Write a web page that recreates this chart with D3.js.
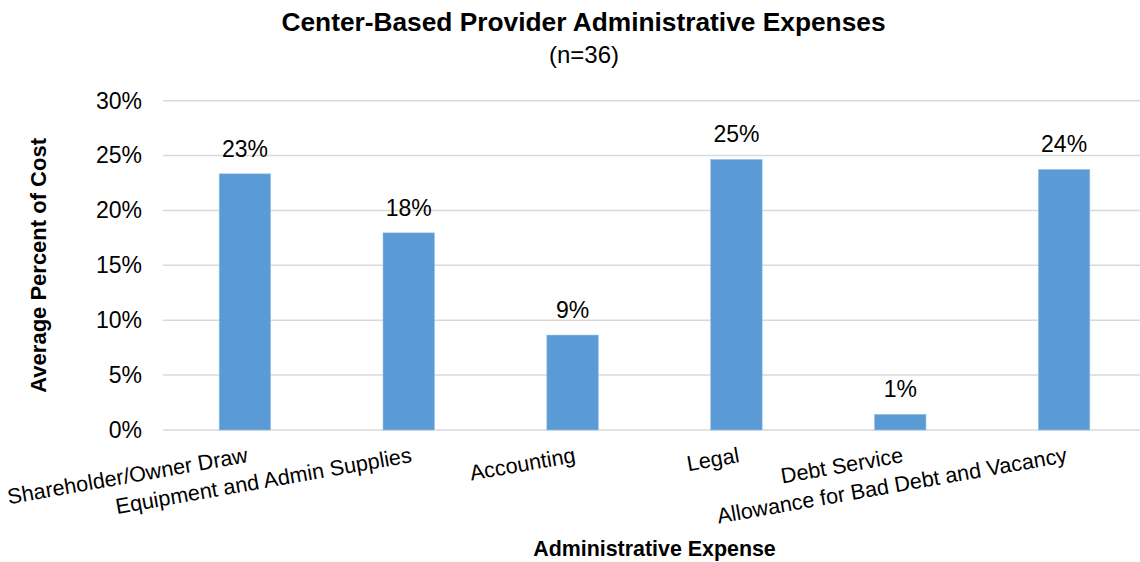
<!DOCTYPE html>
<html><head><meta charset="utf-8">
<script src="https://cdn.jsdelivr.net/npm/d3@7"></script>
<style>body{margin:0;background:#fff}svg{display:block;font-family:"Liberation Sans",Arial,sans-serif}</style>
</head><body>
<svg id="chart" width="1140" height="562"></svg>
<script>
(function(){
const categories = ["Shareholder/Owner Draw","Equipment and Admin Supplies","Accounting","Legal","Debt Service","Allowance for Bad Debt and Vacancy"];
const values = [0.2334, 0.1796, 0.0865, 0.2465, 0.0143, 0.2374];
const labels = ["23%","18%","9%","25%","1%","24%"];
const yTicks = [0,0.05,0.10,0.15,0.20,0.25,0.30];

const svg = d3.select("#chart");
const pL = 163, pR = 1146, pT = 100.7, pB = 430;
const x = d3.scaleBand().domain(categories).range([pL, pR]).padding(0);
const y = d3.scaleLinear().domain([0, 0.30]).range([pB, pT]);
const barW = 51.5;

svg.append("g").selectAll("line").data(yTicks).join("line")
  .attr("x1", pL).attr("x2", pR)
  .attr("y1", d => y(d)).attr("y2", d => y(d))
  .attr("stroke", "#D9D9D9").attr("stroke-width", 1.5);

const yAxis = d3.axisLeft(y).tickValues(yTicks).tickFormat(d3.format(".0%")).tickSize(0).tickPadding(0);
const gy = svg.append("g").attr("transform", `translate(142,0)`).call(yAxis);
gy.select(".domain").remove();
gy.selectAll("text").attr("font-size", 23).attr("fill", "#000").attr("font-family", "Liberation Sans, Arial, sans-serif");

svg.append("g").selectAll("rect").data(categories).join("rect")
  .attr("x", d => x(d) + x.bandwidth()/2 - barW/2)
  .attr("width", barW)
  .attr("y", (d,i) => y(values[i]))
  .attr("height", (d,i) => y(0) - y(values[i]))
  .attr("fill", "#5B9BD5").attr("stroke", "#9DC3E6").attr("stroke-width", 0.6);

svg.append("g").selectAll("text").data(categories).join("text")
  .attr("x", d => x(d) + x.bandwidth()/2)
  .attr("y", (d,i) => y(values[i]) - 17)
  .attr("text-anchor", "middle").attr("font-size", 23).attr("fill", "#000")
  .text((d,i) => labels[i]);

svg.append("g").selectAll("text").data(categories).join("text")
  .attr("transform", d => `translate(${x(d) + x.bandwidth()/2 + 1},446) rotate(-10)`)
  .attr("text-anchor", "end").attr("dy", "0.75em")
  .attr("font-size", 21.6).attr("fill", "#000")
  .text(d => d);

svg.append("text").attr("x", 583.5).attr("y", 31).attr("text-anchor", "middle")
  .attr("font-size", 26.3).attr("font-weight", "bold").text("Center-Based Provider Administrative Expenses");
svg.append("text").attr("x", 584).attr("y", 63).attr("text-anchor", "middle")
  .attr("font-size", 24).text("(n=36)");

svg.append("text").attr("transform", `translate(46,${(pT+pB)/2}) rotate(-90)`)
  .attr("text-anchor", "middle").attr("font-size", 22).attr("font-weight", "bold").text("Average Percent of Cost");
svg.append("text").attr("x", (pL+pR)/2).attr("y", 556).attr("text-anchor", "middle")
  .attr("font-size", 21.4).attr("font-weight", "bold").text("Administrative Expense");
})();
</script>
</body></html>
